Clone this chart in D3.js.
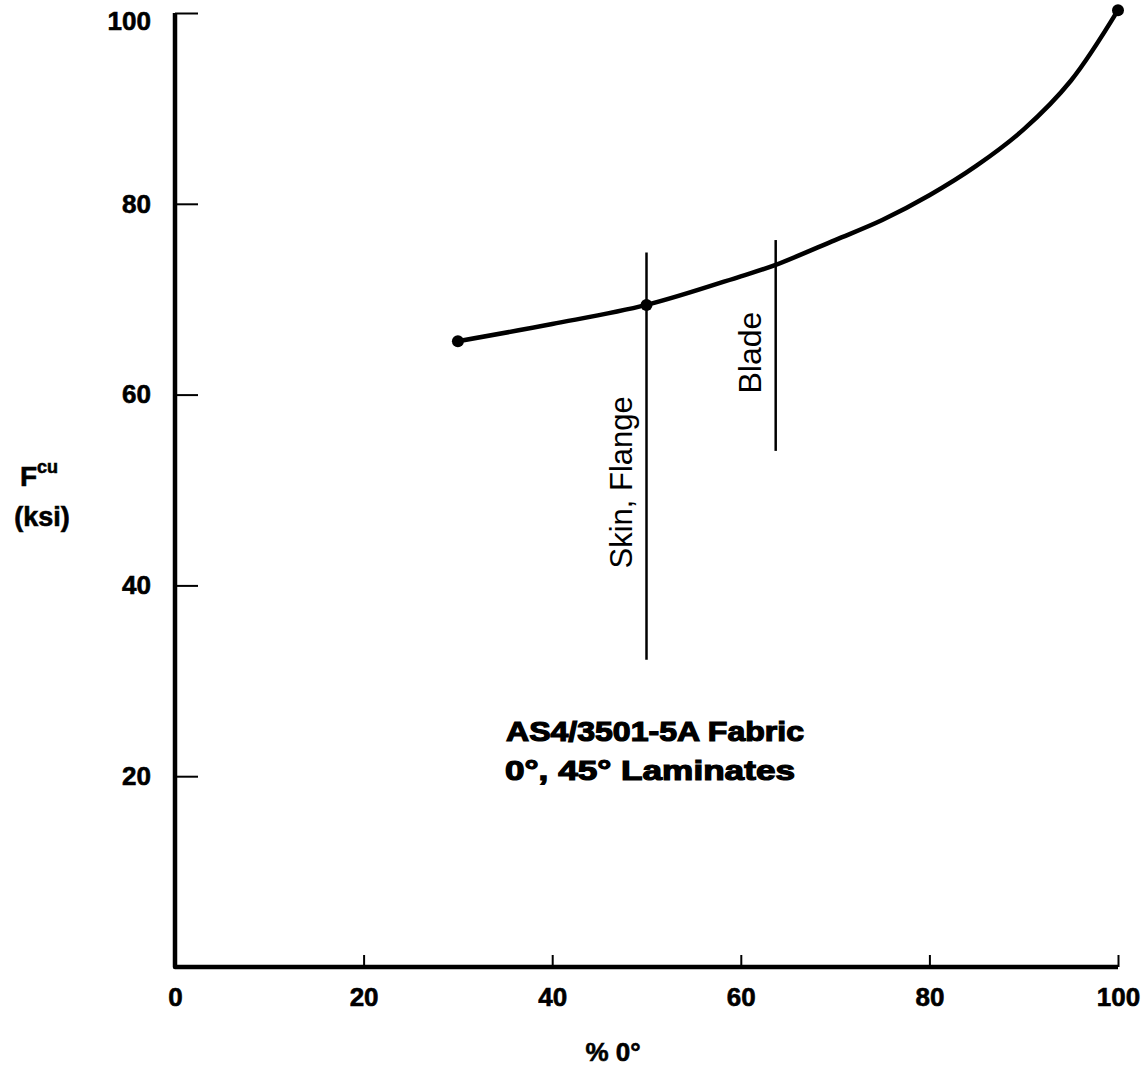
<!DOCTYPE html>
<html lang="en">
<head>
    <meta charset="UTF-8">
    <title>Fcu vs % 0 deg</title>
    <script src="https://d3js.org/d3.v7.min.js"></script>
    <style>
        body { margin: 0; background: #fff; }
        svg text { font-family: "Liberation Sans", Arial, Helvetica, sans-serif; fill: #000; }
        .heavy { stroke: #000; stroke-width: 0.6px; }
    </style>
</head>
<body>
    <svg width="1143" height="1066"></svg>
    <script>
        // curve (% 0 deg, ksi)
        const pctZero = [30, 40, 50, 60, 63.7, 70, 75, 80, 85, 90, 95, 100];
        const fcu     = [65.6, 67.4, 69.4, 72.4, 73.6, 76.2, 78.3, 80.9, 84.0, 87.8, 92.9, 100.3];
        const dotIdx = [0, 2, 11];

        // design lines: x position, bottom and top (ksi), label
        const markX = [50, 63.7];
        const markLo = [32.2, 54.1];
        const markHi = [74.9, 76.2];
        const markLabel = ["Skin, Flange", "Blade"];

        const xTicks = [0, 20, 40, 60, 80, 100];
        const yTicks = [20, 40, 60, 80, 100];

        const svg = d3.select("svg");
        const x = d3.scaleLinear().domain([0, 100]).range([175, 1118]);
        const y = d3.scaleLinear().domain([0, 100]).range([967, 13]);

        // x axis, ticks pointing up
        const gx = svg.append("g")
            .attr("transform", `translate(0,${y(0)})`)
            .call(d3.axisBottom(x).tickValues(xTicks).tickSize(-12).tickPadding(21));
        gx.select(".domain").remove();
        gx.selectAll(".tick line").attr("stroke", "#000").attr("stroke-width", 2);
        gx.selectAll(".tick text").attr("class", "heavy").attr("font-size", 26).attr("font-weight", "bold");

        // y axis, ticks pointing right
        const gy = svg.append("g")
            .attr("transform", `translate(${x(0)},0)`)
            .call(d3.axisLeft(y).tickValues(yTicks).tickSize(-23).tickPadding(24));
        gy.select(".domain").remove();
        gy.selectAll(".tick line").attr("stroke", "#000").attr("stroke-width", 2);
        gy.selectAll(".tick text").attr("class", "heavy").attr("font-size", 26).attr("font-weight", "bold")
            .attr("dy", d => d === 100 ? "0.62em" : "0.32em");

        // heavy axis lines
        svg.append("path")
            .attr("d", `M${x(0)},${y(100)}V${y(0)}H${x(100)}`)
            .attr("fill", "none").attr("stroke", "#000").attr("stroke-width", 4.5)
            .attr("stroke-linejoin", "round");

        // vertical design lines
        svg.selectAll(".mark")
            .data(markX)
            .enter().append("line")
            .attr("class", "mark")
            .attr("x1", d => x(d)).attr("x2", d => x(d))
            .attr("y1", (d, i) => y(markLo[i]))
            .attr("y2", (d, i) => y(markHi[i]))
            .attr("stroke", "#000").attr("stroke-width", 2.5);

        svg.selectAll(".markLabel")
            .data(markX)
            .enter().append("text")
            .attr("class", "markLabel")
            .attr("transform", (d, i) => {
                const mid = i === 0 ? 50.8 : 64.4;
                return `translate(${x(d) - 15},${y(mid)}) rotate(-90)`;
            })
            .attr("text-anchor", "middle")
            .attr("font-size", (d, i) => i === 0 ? 31 : 32)
            .text((d, i) => markLabel[i]);

        // curve
        const pts = pctZero.map((p, i) => [p, fcu[i]]);
        svg.append("path")
            .datum(pts)
            .attr("d", d3.line().x(d => x(d[0])).y(d => y(d[1])).curve(d3.curveCatmullRom))
            .attr("fill", "none").attr("stroke", "#000").attr("stroke-width", 4.5);

        svg.selectAll(".dot")
            .data(dotIdx.map(i => pts[i]))
            .enter().append("circle")
            .attr("class", "dot")
            .attr("cx", d => x(d[0])).attr("cy", d => y(d[1]))
            .attr("r", 6).attr("fill", "#000");

        // annotation
        svg.append("text")
            .attr("class", "heavy")
            .attr("x", 655).attr("y", 741)
            .attr("text-anchor", "middle")
            .attr("font-size", 27).attr("font-weight", 900)
            .attr("textLength", 298).attr("lengthAdjust", "spacingAndGlyphs")
            .style("stroke-width", "1.2px")
            .text("AS4/3501-5A Fabric");
        svg.append("text")
            .attr("class", "heavy")
            .attr("x", 650).attr("y", 780)
            .attr("text-anchor", "middle")
            .attr("font-size", 27).attr("font-weight", 900)
            .attr("textLength", 290).attr("lengthAdjust", "spacingAndGlyphs")
            .style("stroke-width", "1.2px")
            .text("0°, 45° Laminates");

        // axis titles
        svg.append("text")
            .attr("class", "heavy")
            .attr("x", 613).attr("y", 1061)
            .attr("text-anchor", "middle")
            .attr("font-size", 26).attr("font-weight", "bold")
            .text("% 0°");

        const yt = svg.append("text")
            .attr("class", "heavy")
            .attr("x", 20).attr("y", 486)
            .attr("font-size", 28).attr("font-weight", "bold");
        yt.append("tspan").text("F");
        yt.append("tspan").attr("dy", -13).attr("font-size", 18).text("cu");

        svg.append("text")
            .attr("class", "heavy")
            .attr("x", 42).attr("y", 526)
            .attr("text-anchor", "middle")
            .attr("font-size", 27).attr("font-weight", "bold")
            .text("(ksi)");
    </script>
</body>
</html>
